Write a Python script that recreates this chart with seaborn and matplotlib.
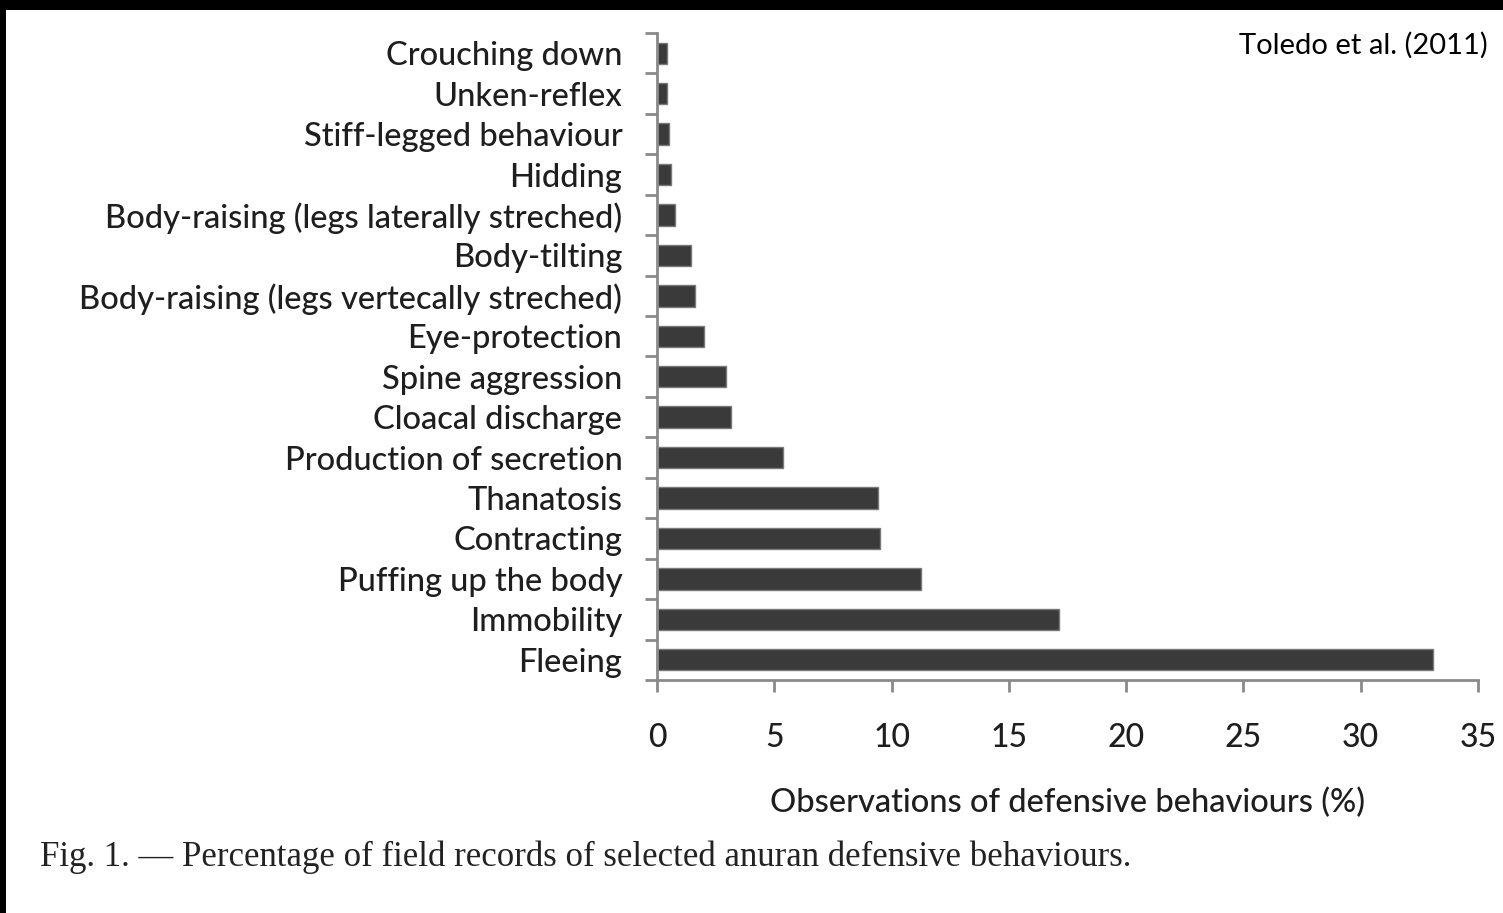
import matplotlib
matplotlib.use('Agg')
import matplotlib.pyplot as plt
from matplotlib.patches import Rectangle
import numpy as np
import pandas as pd
import seaborn as sns

# categories top -> bottom (%)
behaviours = [
    "Crouching down",
    "Unken-reflex",
    "Stiff-legged behaviour",
    "Hidding",
    "Body-raising (legs laterally streched)",
    "Body-tilting",
    "Body-raising (legs vertecally streched)",
    "Eye-protection",
    "Spine aggression",
    "Cloacal discharge",
    "Production of secretion",
    "Thanatosis",
    "Contracting",
    "Puffing up the body",
    "Immobility",
    "Fleeing",
]
percent = [0.42, 0.42, 0.51, 0.6, 0.75, 1.43, 1.63, 2.0, 2.95, 3.15,
           5.37, 9.42, 9.5, 11.24, 17.12, 33.1]
x_ticks = [0, 5, 10, 15, 20, 25, 30, 35]

df = pd.DataFrame({"Behaviour": behaviours, "Percent": percent})

sns.set_theme(style="white")
label_font = ["Lato", "DejaVu Sans"]
axis_grey = "#8a8a8a"
text_col = "#1e1e1e"

fig = plt.figure(figsize=(15.03, 9.13), dpi=100)
fig.patch.set_facecolor("white")
ax = fig.add_axes([657 / 1503, 1 - 680 / 913, (1478 - 657) / 1503, (680 - 33) / 913])

sns.barplot(data=df, x="Percent", y="Behaviour", orient="h", ax=ax,
            color="#3a3a3a", saturation=1, width=0.53,
            edgecolor="#7a7a7a", linewidth=1.0)

ax.set_xlim(0, 35)
ax.set_ylim(len(behaviours) - 0.5, -0.5)
ax.set_xticks(x_ticks)
ax.set_xticklabels([str(t) for t in x_ticks], fontsize=23, family=label_font,
                   color=text_col, fontweight="medium")
ax.set_yticks(np.arange(len(behaviours)))
ax.set_yticklabels(behaviours, fontsize=23.5, family=label_font, color=text_col,
                   fontweight="medium")
ax.set_yticks(np.arange(len(behaviours) + 1) - 0.5, minor=True)

ax.tick_params(axis="y", which="major", length=0, pad=25)
ax.tick_params(axis="y", which="minor", length=8.6, width=2, color=axis_grey, left=True)
ax.tick_params(axis="x", which="major", length=8.6, width=2, color=axis_grey, pad=22, bottom=True)

for side in ["top", "right"]:
    ax.spines[side].set_visible(False)
for side in ["left", "bottom"]:
    ax.spines[side].set_color(axis_grey)
    ax.spines[side].set_linewidth(2)

ax.set_xlabel("Observations of defensive behaviours (%)", fontsize=23.5,
              family=label_font, color=text_col, fontweight="medium", labelpad=25)
ax.set_ylabel("")
ax.grid(False)

fig.text(1488 / 1503, 1 - 45 / 913, "Toledo et al. (2011)", ha="right", va="center",
         fontsize=21, family=label_font, color="black")
fig.text(40 / 1503, 1 - 857 / 913,
         "Fig. 1. \u2014 Percentage of field records of selected anuran defensive behaviours.",
         ha="left", va="center", fontsize=25, family=["Liberation Serif", "DejaVu Serif"],
         color="#222222")

# black frame strips at top and left edge of the scan
fig.patches.append(Rectangle((0, 1 - 10 / 913), 1, 10 / 913, transform=fig.transFigure,
                             facecolor="black", edgecolor="none"))
fig.patches.append(Rectangle((0, 0), 6 / 1503, 1, transform=fig.transFigure,
                             facecolor="black", edgecolor="none"))

fig.savefig("out.png", dpi=100)
